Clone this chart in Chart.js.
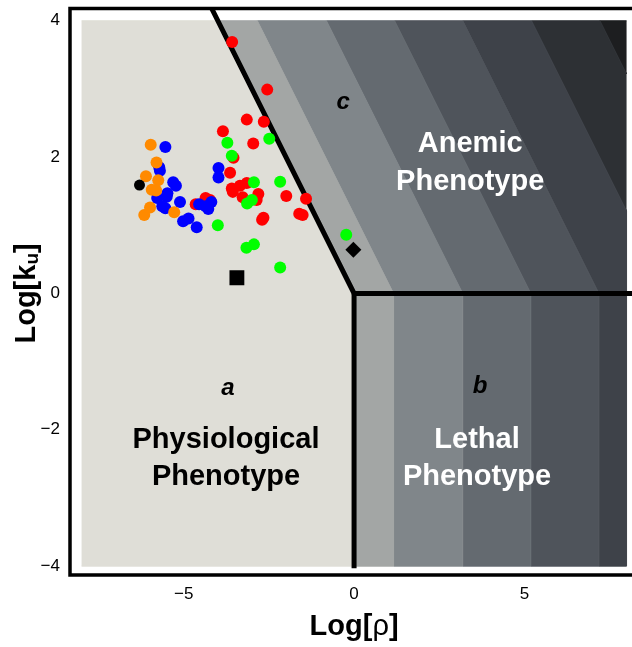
<!DOCTYPE html>
<html><head><meta charset="utf-8">
<script src="https://cdn.jsdelivr.net/npm/chart.js@4.4.0/dist/chart.umd.min.js"></script>
<style>html,body{margin:0;padding:0;background:#fff;overflow:hidden;} canvas{display:block;}</style>
</head><body>
<canvas id="c" width="632" height="647"></canvas>
<script>
// ---- data ----
const xTicks = [-5, 0, 5];
const yTicks = [-4, -2, 0, 2, 4];
const bandEdges = [0, 1.16, 3.19, 5.19, 7.19, 9.21, 11.22];
const bandColors = ['#a3a6a5', '#80868a', '#646a70', '#4f545b', '#3e4249', '#2d3034', '#1d1e20'];
const regionAColor = '#dfded7';
const redPts = [[-3.58,3.69],[-2.55,2.99],[-3.15,2.55],[-2.65,2.52],[-3.85,2.38],[-2.96,2.20],[-3.54,1.99],[-3.64,1.77],[-3.59,1.54],[-3.56,1.49],[-3.35,1.58],[-3.15,1.62],[-3.27,1.41],[-2.81,1.46],[-2.86,1.37],[-1.99,1.43],[-1.41,1.39],[-1.61,1.17],[-1.51,1.15],[-2.66,1.11],[-2.70,1.08],[-4.65,1.31],[-4.36,1.40],[-4.23,1.37]];
const greenPts = [[-3.72,2.21],[-2.49,2.27],[-3.59,2.02],[-2.94,1.63],[-2.17,1.64],[-3.00,1.37],[-3.14,1.32],[-4.00,1.00],[-3.16,0.67],[-2.94,0.72],[-2.17,0.38],[-0.23,0.86]];
const bluePts = [[-5.54,2.15],[-5.72,1.85],[-5.70,1.80],[-5.31,1.63],[-5.23,1.58],[-5.48,1.47],[-5.50,1.42],[-5.78,1.40],[-5.11,1.34],[-5.63,1.28],[-5.54,1.25],[-5.02,1.06],[-4.86,1.10],[-4.62,0.97],[-4.55,1.31],[-4.36,1.28],[-4.19,1.34],[-4.28,1.24],[-3.98,1.84],[-3.98,1.70]];
const orangePts = [[-5.97,2.18],[-5.80,1.92],[-6.11,1.72],[-5.75,1.66],[-5.94,1.52],[-5.81,1.51],[-5.99,1.26],[-6.16,1.15],[-5.28,1.19]];
const blackCirclePts = [[-6.30,1.59]];
const blackSquarePts = [[-3.44,0.23]];
const blackDiamondPts = [[-0.02,0.64]];
const boundaryDiag = [[-4.18,4.18],[0,0],[8.4,0]];
const boundaryVert = [[0,0],[0,-4.03]];

// ---- geometry helpers ----
const X0 = -8, X1 = 8, Y0 = -4, Y1 = 4;
function clipXMax(poly, xmax) {
  const out = [];
  for (let i = 0; i < poly.length; i++) {
    const a = poly[i], b = poly[(i + 1) % poly.length];
    const ain = a[0] <= xmax, bin = b[0] <= xmax;
    if (ain) out.push(a);
    if (ain !== bin) {
      const t = (xmax - a[0]) / (b[0] - a[0]);
      out.push([xmax, a[1] + t * (b[1] - a[1])]);
    }
  }
  return out;
}
const toXY = arr => arr.map(p => ({x: p[0], y: p[1]}));

const datasets = [];
datasets.push({type:'scatter', data: toXY(blackSquarePts), pointStyle:'rect', pointRadius:10.5, backgroundColor:'#000', borderWidth:0, order:0});
datasets.push({type:'scatter', data: toXY(blackDiamondPts), pointStyle:'rectRot', pointRadius:8, backgroundColor:'#000', borderWidth:0, order:0});
datasets.push({type:'scatter', data: toXY(blackCirclePts), pointRadius:5.5, backgroundColor:'#000', borderWidth:0, order:1});
datasets.push({type:'scatter', data: toXY(orangePts), pointRadius:6, backgroundColor:'#ff8a00', borderWidth:0, order:2});
datasets.push({type:'scatter', data: toXY(bluePts), pointRadius:6, backgroundColor:'#0000ff', borderWidth:0, order:3});
datasets.push({type:'scatter', data: toXY(greenPts), pointRadius:6, backgroundColor:'#00ff00', borderWidth:0, order:4});
datasets.push({type:'scatter', data: toXY(redPts), pointRadius:6, backgroundColor:'#ff0000', borderWidth:0, order:5});
datasets.push({type:'line', data: toXY(boundaryDiag), borderColor:'#000', borderWidth:5, pointRadius:0, fill:false, borderJoinStyle:'miter', order:8});
datasets.push({type:'line', data: toXY(boundaryVert), borderColor:'#000', borderWidth:5, pointRadius:0, fill:false, order:8});
for (let i = 0; i < bandEdges.length; i++) {
  const lo = bandEdges[i], hi = (i + 1 < bandEdges.length) ? bandEdges[i + 1] : 16;
  let poly = [[lo, Y0], [hi, Y0], [hi, 0], [hi - Y1, Y1], [lo - Y1, Y1], [lo, 0]];
  poly = clipXMax(poly, X1);
  if (poly.length < 3) continue;
  datasets.push({type:'line', data: toXY(poly), backgroundColor: bandColors[i], borderColor: bandColors[i], borderWidth: 1, pointRadius: 0, fill: 'shape', order: 20});
}
datasets.push({type:'line', data: toXY([[X0,Y0],[0,Y0],[0,0],[-Y1,Y1],[X0,Y1]]), backgroundColor: regionAColor, borderColor: regionAColor, borderWidth: 1, pointRadius: 0, fill: 'shape', order: 30});

const textFont = '"Liberation Sans", Arial, sans-serif';
const annotations = [
  {text:'a', x:-3.70, y:-1.39, font:'italic bold 24px', color:'#000', base:'middle'},
  {text:'Physiological', x:-3.76, y:-2.26, font:'bold 29px', color:'#000', base:'alphabetic'},
  {text:'Phenotype', x:-3.76, y:-2.81, font:'bold 29px', color:'#000', base:'alphabetic'},
  {text:'b', x:3.70, y:-1.37, font:'italic bold 24px', color:'#000', base:'middle'},
  {text:'Lethal', x:3.61, y:-2.26, font:'bold 29px', color:'#fff', base:'alphabetic'},
  {text:'Phenotype', x:3.61, y:-2.81, font:'bold 29px', color:'#fff', base:'alphabetic'},
  {text:'c', x:-0.32, y:2.80, font:'italic bold 24px', color:'#000', base:'middle'},
  {text:'Anemic', x:3.41, y:2.08, font:'bold 29px', color:'#fff', base:'alphabetic'},
  {text:'Phenotype', x:3.41, y:1.52, font:'bold 29px', color:'#fff', base:'alphabetic'}
];

const decorPlugin = {
  id: 'decor',
  afterDatasetsDraw(chart) {
    const {ctx, chartArea: ca, scales} = chart;
    ctx.save();
    ctx.textAlign = 'center';
    for (const a of annotations) {
      ctx.font = a.font + ' ' + textFont;
      ctx.fillStyle = a.color;
      ctx.textBaseline = a.base;
      ctx.fillText(a.text, scales.x.getPixelForValue(a.x), scales.y.getPixelForValue(a.y));
    }
    // frame: right side lies beyond the visible page, so only three sides are drawn
    ctx.lineWidth = 3.5;
    ctx.strokeStyle = '#000';
    ctx.lineJoin = 'miter';
    ctx.beginPath();
    ctx.moveTo(chart.width + 5, ca.top);
    ctx.lineTo(ca.left, ca.top);
    ctx.lineTo(ca.left, ca.bottom);
    ctx.lineTo(chart.width + 5, ca.bottom);
    ctx.stroke();
    ctx.fillStyle = '#000';
    ctx.textBaseline = 'middle';
    ctx.font = 'bold 29px ' + textFont;
    const xc = scales.x.getPixelForValue(0);
    const w1 = ctx.measureText('Log[').width;
    ctx.font = '29px ' + textFont;
    const wr = ctx.measureText('\u03c1').width;
    ctx.font = 'bold 29px ' + textFont;
    const w3 = ctx.measureText(']').width;
    let sx = xc - (w1 + wr + w3) / 2;
    const ty = 627;
    ctx.textAlign = 'left';
    ctx.fillText('Log[', sx, ty);
    ctx.font = '29px ' + textFont;
    ctx.fillText('\u03c1', sx + w1, ty);
    ctx.font = 'bold 29px ' + textFont;
    ctx.fillText(']', sx + w1 + wr, ty);
    ctx.translate(27, scales.y.getPixelForValue(0));
    ctx.rotate(-Math.PI / 2);
    ctx.font = 'bold 29px ' + textFont;
    const a1 = ctx.measureText('Log[k').width;
    ctx.font = 'bold 19px ' + textFont;
    const a2 = ctx.measureText('u').width;
    ctx.font = 'bold 29px ' + textFont;
    const a3 = ctx.measureText(']').width;
    const s0 = -(a1 + a2 + a3) / 2;
    ctx.textBaseline = 'middle';
    ctx.fillText('Log[k', s0, 0);
    ctx.font = 'bold 19px ' + textFont;
    ctx.fillText('u', s0 + a1, 6);
    ctx.font = 'bold 29px ' + textFont;
    ctx.fillText(']', s0 + a1 + a2, 0);
    ctx.restore();
  }
};

const fmt = v => (v < 0 ? '\u2212' + Math.abs(v) : String(v));
const zeroPad = s => { s.paddingTop = 0; s.paddingBottom = 0; s.paddingLeft = 0; s.paddingRight = 0; };

new Chart(document.getElementById('c'), {
  type: 'scatter',
  data: { datasets },
  options: {
    responsive: false,
    animation: false,
    devicePixelRatio: 1,
    layout: { autoPadding: false, padding: { top: 8.5, right: 0, left: 0, bottom: 0 } },
    plugins: { legend: { display: false }, tooltip: { enabled: false } },
    scales: {
      x: {
        type: 'linear', position: 'bottom', min: -8.34, max: 8.16,
        grid: { display: false, drawTicks: false }, border: { display: false },
        afterBuildTicks: s => { s.ticks = xTicks.map(v => ({ value: v })); },
        afterFit: s => { s.height = 72; zeroPad(s); },
        ticks: { autoSkip: false, maxRotation: 0, padding: 9, color: '#000', font: { family: textFont, size: 17 }, callback: fmt }
      },
      y: {
        type: 'linear', position: 'left', min: -4.13, max: 4.18,
        grid: { display: false, drawTicks: false }, border: { display: false },
        afterBuildTicks: s => { s.ticks = yTicks.map(v => ({ value: v })); },
        afterFit: s => { s.width = 70; zeroPad(s); },
        ticks: { autoSkip: false, padding: 10, color: '#000', font: { family: textFont, size: 17 }, callback: fmt }
      }
    }
  },
  plugins: [decorPlugin]
});
</script>
</body></html>
